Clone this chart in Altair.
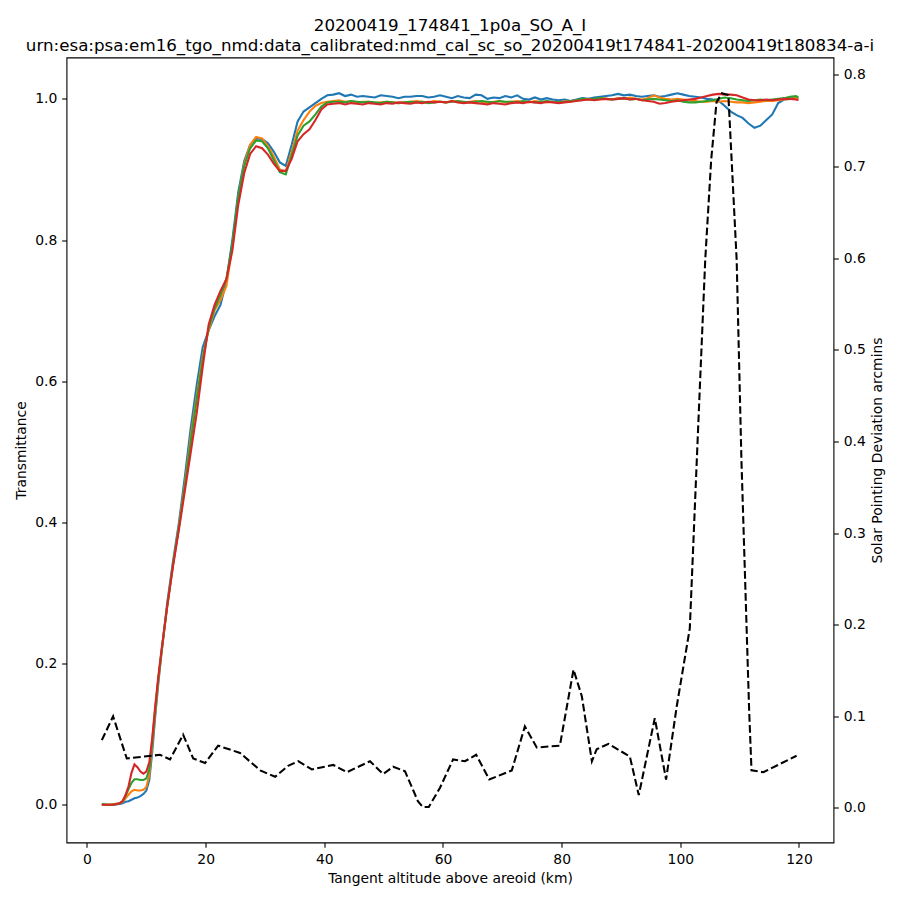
import altair as alt
import pandas as pd

# Tangent altitude grid (km) shared by the four transmittance spectra
alt_km = [2.5, 3.5, 4.5, 5.5, 6.0, 6.5, 7.0, 7.5, 8.0, 8.5, 9.0, 9.5, 10.0, 10.5, 11.0, 11.5, 12.0, 12.5,
          13.5, 14.5, 15.5, 16.5, 17.5, 18.5, 19.5, 20.5, 21.5, 22.5, 23.5, 24.5, 25.5, 26.5, 27.5, 28.5,
          29.5, 30.5, 31.5, 32.5, 33.5, 34.5, 35.5, 36.5, 37.5, 38.5, 39.5, 40.5,
          41.5, 42.5, 43.5, 44.5, 45.5, 46.5, 47.5, 48.5, 49.5, 50.5, 51.5, 52.5, 53.5, 54.5, 55.5, 56.5,
          57.5, 58.5, 59.5, 60.5, 61.5, 62.5, 63.5, 64.5, 65.5, 66.5, 67.5, 68.5, 69.5, 70.5, 71.5, 72.5,
          73.5, 74.5, 75.5, 76.5, 77.5, 78.5, 79.5, 80.5, 81.5, 82.5, 83.5, 84.5, 85.5, 86.5, 87.5, 88.5,
          89.5, 90.5, 91.5, 92.5, 93.5, 94.5, 95.5, 96.5, 97.5, 98.5, 99.5, 100.5, 101.5, 102.5, 103.5,
          104.5, 105.5, 106.5, 107.5, 108.5, 109.5, 110.5, 111.5, 112.5, 113.5, 114.5, 115.5, 116.5,
          117.5, 118.5, 119.5, 119.9]

trans_blue = [0.000, 0.000, 0.000, 0.001, 0.002, 0.004, 0.005, 0.007, 0.009, 0.010, 0.012, 0.015, 0.020,
              0.035, 0.075, 0.125, 0.170, 0.210,
              0.285, 0.345, 0.400, 0.465, 0.535, 0.595, 0.648, 0.672, 0.692, 0.708, 0.742, 0.800, 0.868,
              0.912, 0.935, 0.944, 0.943, 0.937, 0.925, 0.910, 0.905, 0.935, 0.968, 0.982, 0.988, 0.994,
              1.000, 1.005,
              1.006, 1.008, 1.004, 1.006, 1.003, 1.004, 1.003, 1.002, 1.005, 1.004, 1.003, 1.001, 1.003,
              1.003, 1.004, 1.004, 1.002, 1.003, 1.005, 1.003, 1.001, 1.004, 1.002, 1.001, 1.006, 1.005,
              1.000, 1.002, 1.001, 1.004, 1.002, 1.005, 1.000, 0.999, 1.002, 0.999, 1.001, 0.999, 0.998,
              0.999, 0.997, 0.999, 1.001, 1.000, 1.002, 1.003, 1.004, 1.005, 1.007, 1.005, 1.006, 1.004,
              1.003, 1.004, 1.005, 1.003, 1.004, 1.006, 1.008, 1.006, 1.004, 1.003, 1.002, 1.000, 0.999,
              0.997, 0.990, 0.982, 0.977, 0.973, 0.965, 0.959, 0.962, 0.970, 0.978, 0.994, 0.999, 1.000,
              1.002, 1.000]

trans_orange = [0.000, 0.000, 0.001, 0.002, 0.004, 0.009, 0.014, 0.019, 0.021, 0.020, 0.020, 0.021, 0.025,
                0.042, 0.085, 0.130, 0.175, 0.212,
                0.280, 0.340, 0.395, 0.455, 0.522, 0.580, 0.635, 0.672, 0.700, 0.715, 0.735, 0.790, 0.860,
                0.908, 0.935, 0.946, 0.944, 0.933, 0.918, 0.900, 0.897, 0.925, 0.955, 0.970, 0.982, 0.990,
                0.994, 0.996,
                0.997, 0.998, 0.996, 0.997, 0.995, 0.996, 0.996, 0.994, 0.995, 0.996, 0.995, 0.994, 0.995,
                0.996, 0.997, 0.996, 0.995, 0.997, 0.996, 0.995, 0.997, 0.996, 0.995, 0.996, 0.997, 0.996,
                0.994, 0.996, 0.997, 0.995, 0.996, 0.997, 0.996, 0.995, 0.997, 0.996, 0.995, 0.996, 0.995,
                0.997, 0.996, 0.998, 0.999, 1.000, 0.999, 1.001, 1.000, 0.999, 1.001, 1.000, 1.002, 1.000,
                0.999, 1.001, 1.005, 1.002, 1.000, 0.999, 1.000, 0.999, 0.998, 0.997, 0.996, 0.996, 0.997,
                0.996, 0.997, 0.996, 0.995, 0.995, 0.994, 0.995, 0.996, 0.997, 0.997, 0.998, 0.999, 1.000,
                1.001, 1.000]

trans_green = [0.001, 0.000, 0.000, 0.002, 0.005, 0.012, 0.022, 0.031, 0.036, 0.036, 0.035, 0.035, 0.037,
               0.050, 0.090, 0.135, 0.177, 0.213,
               0.280, 0.340, 0.393, 0.452, 0.515, 0.575, 0.630, 0.675, 0.703, 0.722, 0.745, 0.795, 0.862,
               0.905, 0.930, 0.941, 0.940, 0.930, 0.913, 0.896, 0.893, 0.920, 0.948, 0.962, 0.968, 0.978,
               0.989, 0.995,
               0.996, 0.996, 0.995, 0.997, 0.996, 0.995, 0.996, 0.995, 0.994, 0.996, 0.995, 0.994, 0.995,
               0.996, 0.995, 0.996, 0.994, 0.995, 0.996, 0.995, 0.996, 0.997, 0.996, 0.995, 0.996, 0.997,
               0.996, 0.995, 0.997, 0.996, 0.996, 0.995, 0.997, 0.996, 0.995, 0.996, 0.997, 0.996, 0.995,
               0.996, 0.997, 0.998, 1.000, 0.999, 1.000, 1.001, 1.000, 0.999, 1.000, 1.001, 0.999, 1.000,
               0.998, 0.999, 1.000, 0.999, 0.998, 0.997, 0.998, 0.996, 0.995, 0.995, 0.996, 0.997, 0.998,
               1.000, 1.002, 1.001, 0.999, 0.998, 0.997, 0.998, 0.999, 0.998, 0.999, 1.000, 1.001, 1.003,
               1.004, 1.002]

trans_red = [0.000, 0.000, 0.000, 0.002, 0.005, 0.014, 0.026, 0.045, 0.057, 0.053, 0.047, 0.044, 0.047,
             0.060, 0.095, 0.140, 0.180, 0.215,
             0.280, 0.338, 0.390, 0.445, 0.500, 0.555, 0.620, 0.680, 0.708, 0.728, 0.745, 0.785, 0.850,
             0.895, 0.922, 0.933, 0.930, 0.921, 0.908, 0.898, 0.898, 0.915, 0.940, 0.950, 0.957, 0.970,
             0.985, 0.992,
             0.993, 0.994, 0.992, 0.994, 0.993, 0.992, 0.994, 0.993, 0.992, 0.994, 0.993, 0.995, 0.994,
             0.993, 0.995, 0.994, 0.996, 0.995, 0.996, 0.995, 0.997, 0.995, 0.994, 0.995, 0.994, 0.993,
             0.992, 0.994, 0.993, 0.992, 0.994, 0.995, 0.994, 0.996, 0.995, 0.994, 0.996, 0.995, 0.994,
             0.995, 0.996, 0.997, 0.998, 0.999, 0.998, 0.999, 1.000, 0.999, 1.000, 1.001, 0.999, 1.000,
             0.998, 0.997, 0.996, 0.993, 0.994, 0.996, 0.997, 0.998, 0.999, 1.000, 1.002, 1.004, 1.006,
             1.007, 1.006, 1.006, 1.005, 1.002, 0.999, 0.998, 0.998, 0.999, 0.998, 0.999, 1.000, 1.000,
             0.999, 0.998]

series_names = ["Spectral bin 1", "Spectral bin 2", "Spectral bin 3", "Spectral bin 4"]
series_colors = ["#1f77b4", "#ff7f0e", "#2ca02c", "#d62728"]

# Solar pointing deviation (arcmins) vs tangent altitude
spd_alt = [2.5, 4.4, 6.7, 12.3, 14.0, 16.2, 17.9, 19.9, 22.1, 25.8, 29.2, 31.7, 33.9, 35.6, 37.9, 41.5,
           43.8, 47.7, 49.9, 51.6, 53.6, 55.8, 56.6, 57.6, 59.5, 61.7, 63.7, 65.6, 67.8, 71.6, 73.8, 75.8,
           79.7, 82.0, 83.4, 85.1, 85.9, 87.9, 91.5, 93.0, 95.7, 97.6, 99.4, 101.6, 103.2, 104.2, 105.2,
           106.1, 107.0, 108.1, 109.5, 110.3, 111.6, 112.0, 114.0, 119.6]
spd_val = [0.074, 0.100, 0.054, 0.058, 0.053, 0.080, 0.054, 0.049, 0.068, 0.060, 0.041, 0.034, 0.046,
           0.051, 0.042, 0.047, 0.039, 0.051, 0.037, 0.045, 0.040, 0.007, 0.001, 0.001, 0.022, 0.053,
           0.051, 0.058, 0.031, 0.041, 0.089, 0.066, 0.068, 0.151, 0.122, 0.051, 0.064, 0.070, 0.056,
           0.014, 0.098, 0.031, 0.111, 0.196, 0.445, 0.598, 0.707, 0.770, 0.780, 0.778, 0.598, 0.380,
           0.107, 0.041, 0.039, 0.057]

x_ticks = [0, 20, 40, 60, 80, 100, 120]
left_ticks = [0.0, 0.2, 0.4, 0.6, 0.8, 1.0]
right_ticks = [0.0, 0.1, 0.2, 0.3, 0.4, 0.5, 0.6, 0.7, 0.8]

rows = []
for name, vals in zip(series_names, [trans_blue, trans_orange, trans_green, trans_red]):
    assert len(vals) == len(alt_km), (name, len(vals), len(alt_km))
    for a, v in zip(alt_km, vals):
        rows.append({"alt": a, "trans": v, "series": name})
df_t = pd.DataFrame(rows)
df_s = pd.DataFrame({"alt": spd_alt, "spd": spd_val})

x_enc = alt.X(
    "alt:Q",
    scale=alt.Scale(domain=[-3.455, 125.82], nice=False, zero=False),
    axis=alt.Axis(values=x_ticks, format="d", title="Tangent altitude above areoid (km)", titlePadding=5),
)

lines = alt.Chart(df_t).mark_line(strokeWidth=2.08, strokeCap="butt").encode(
    x=x_enc,
    y=alt.Y(
        "trans:Q",
        scale=alt.Scale(domain=[-0.0536, 1.0586], nice=False, zero=False),
        axis=alt.Axis(values=left_ticks, format=".1f", title="Transmittance", orient="left", titlePadding=6),
    ),
    color=alt.Color("series:N", scale=alt.Scale(domain=series_names, range=series_colors), legend=None),
    order=alt.Order("alt:Q"),
)

dashed = alt.Chart(df_s).mark_line(color="black", strokeWidth=2.08, strokeDash=[7.7, 3.3], strokeCap="butt").encode(
    x=alt.X("alt:Q"),
    y=alt.Y(
        "spd:Q",
        scale=alt.Scale(domain=[-0.0377, 0.819], nice=False, zero=False),
        axis=alt.Axis(values=right_ticks, format=".1f", title="Solar Pointing Deviation arcmins",
                      orient="right", titleAngle=270, titleBaseline="top", titlePadding=5),
    ),
)

chart = (
    alt.layer(lines, dashed)
    .resolve_scale(y="independent")
    .properties(
        width=767,
        height=785,
        title=alt.TitleParams(
            text=["20200419_174841_1p0a_SO_A_I",
                  "urn:esa:psa:em16_tgo_nmd:data_calibrated:nmd_cal_sc_so_20200419t174841-20200419t180834-a-i"],
            anchor="middle", frame="group", baseline="bottom", offset=4.3, dy=18, lineHeight=20,
        ),
        autosize=alt.AutoSizeParams(type="none"),
        padding={"left": 58.5, "top": 49.5, "right": 58, "bottom": 50},
    )
    .configure_view(stroke="black", strokeWidth=1.1)
    .configure_axis(
        domain=False, grid=False, tickColor="black", tickWidth=1.1, tickSize=4.86,
        labelFont="DejaVu Sans", labelFontSize=13.9, labelColor="black", labelPadding=4.86,
        labelFlush=False, labelOverlap=False,
        titleFont="DejaVu Sans", titleFontSize=13.9, titleFontWeight="normal", titleColor="black",
    )
    .configure_title(font="DejaVu Sans", fontSize=16.7, fontWeight="normal", color="black")
)

chart.save("out.html", embed_options={"renderer": "svg", "actions": False})
